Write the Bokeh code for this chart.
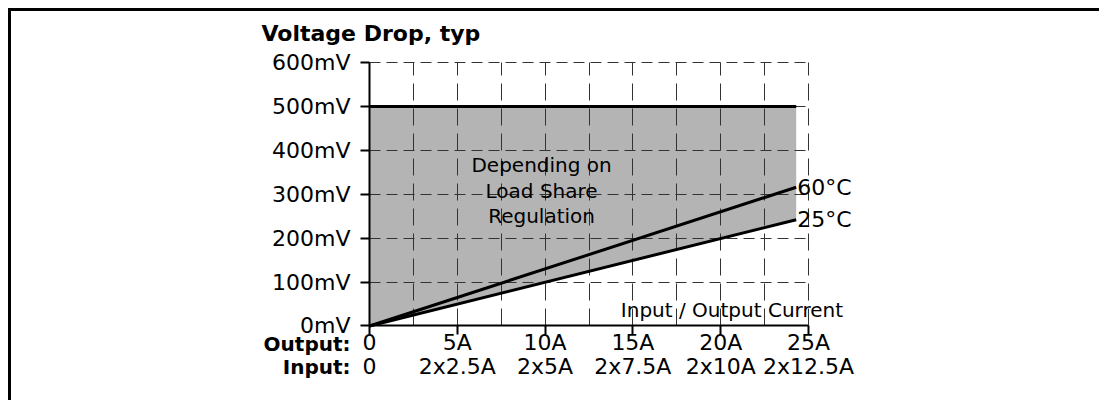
from bokeh.plotting import figure
from bokeh.models import FixedTicker, LinearAxis, Label, Range1d
from bokeh.embed import file_html
from bokeh.resources import INLINE

# ---- data ----
current = [0, 24.3]            # A (output current)
drop_60c = [0, 316]            # mV at 60 °C
drop_25c = [0, 242]            # mV at 25 °C
limit_mv = [500, 500]          # upper bound depending on load share regulation

y_ticks = [0, 100, 200, 300, 400, 500, 600]
y_tick_labels = ["0mV", "100mV", "200mV", "300mV", "400mV", "500mV", "600mV"]
x_ticks = [0, 5, 10, 15, 20, 25]
output_labels = ["0", "5A", "10A", "15A", "20A", "25A"]
input_labels = ["0", "2x2.5A", "2x5A", "2x7.5A", "2x10A", "2x12.5A"]
x_grid = [0, 2.5, 5, 7.5, 10, 12.5, 15, 17.5, 20, 22.5, 25]

FONT = "DejaVu Sans"

# view window (room for annotation text around the 0..25 A / 0..600 mV area)
X_VIEW = (-6.207, 27.961)
Y_VIEW = (-135.5, 697.9)

p = figure(width=1091, height=392,
           x_range=Range1d(*X_VIEW), y_range=Range1d(*Y_VIEW),
           output_backend="svg", toolbar_location=None,
           min_border_left=249, min_border_right=242,
           min_border_top=8, min_border_bottom=18)
p.styles = {"margin-left": "8px", "margin-top": "8px",
            "border-top": "3px solid black", "border-left": "3px solid black"}
p.outline_line_color = None
p.background_fill_color = "white"
p.border_fill_color = "white"

# grid
p.xgrid.ticker = FixedTicker(ticks=x_grid)
p.ygrid.ticker = FixedTicker(ticks=y_ticks)
p.xgrid.cross_bounds = (y_ticks[0], y_ticks[-1])
p.ygrid.cross_bounds = (x_ticks[0], x_ticks[-1])
p.xgrid.bounds = (x_ticks[0], x_ticks[-1])
p.ygrid.bounds = (y_ticks[0], y_ticks[-1])
for g in (p.xgrid[0], p.ygrid[0]):
    g.grid_line_color = "#333333"
    g.grid_line_width = 1
p.xgrid.grid_line_dash = "17 8"
p.ygrid.grid_line_dash = "11 6"

# y axis
ya = p.yaxis[0]
ya.fixed_location = 0
ya.bounds = (y_ticks[0], y_ticks[-1])
ya.ticker = FixedTicker(ticks=y_ticks)
ya.major_label_overrides = dict(zip(y_ticks, y_tick_labels))
ya.axis_line_color = "black"
ya.axis_line_width = 2
ya.major_tick_line_color = "black"
ya.major_tick_line_width = 2
ya.major_tick_in = 0
ya.major_tick_out = 9
ya.minor_tick_line_color = None
ya.major_label_standoff = 10
ya.major_label_text_font = FONT
ya.major_label_text_font_size = "22px"
ya.major_label_text_color = "black"

# x axis (output current row)
xa = p.xaxis[0]
xa.fixed_location = 0
xa.bounds = (x_ticks[0], x_ticks[-1])
xa.ticker = FixedTicker(ticks=x_ticks)
xa.major_label_overrides = dict(zip(x_ticks, output_labels))
xa.axis_line_color = "black"
xa.axis_line_width = 2
xa.major_tick_line_color = "black"
xa.major_tick_line_width = 2
xa.major_tick_in = 0
xa.major_tick_out = 9
xa.minor_tick_line_color = None
xa.major_label_standoff = -5
xa.major_label_text_font = FONT
xa.major_label_text_font_size = "22px"
xa.major_label_text_color = "black"

# second x axis (input current row)
xa2 = LinearAxis(ticker=FixedTicker(ticks=x_ticks), fixed_location=0,
                 major_label_overrides=dict(zip(x_ticks, input_labels)),
                 axis_line_color=None, major_tick_line_color=None,
                 minor_tick_line_color=None, major_tick_in=0, major_tick_out=0,
                 major_label_standoff=28,
                 major_label_text_font=FONT, major_label_text_font_size="22px",
                 major_label_text_color="black")
p.add_layout(xa2, "below")

# shaded region
p.patch([current[0], current[0], current[-1], current[-1]],
        [drop_25c[0], limit_mv[0], limit_mv[-1], drop_25c[-1]],
        fill_color="#b4b4b4", line_color=None, level="image")

p.line(current, limit_mv, line_color="black", line_width=3)
p.line(current, drop_60c, line_color="black", line_width=3)
p.line(current, drop_25c, line_color="black", line_width=3)

def lab(x, y, text, size="20px", align="center", bold=False, xo=0, yo=0):
    p.add_layout(Label(x=x, y=y, text=text, x_offset=xo, y_offset=yo,
                       text_align=align, text_baseline="middle",
                       text_font=FONT, text_font_size=size,
                       text_font_style="bold" if bold else "normal",
                       text_color="black"))

lab(0, 666, "Voltage Drop, typ", size="22px", align="left", bold=True, xo=-108)
lab(9.8, 367, "Depending on")
lab(9.8, 307, "Load Share")
lab(9.8, 250, "Regulation")
lab(20.64, 37, "Input / Output Current")
lab(current[-1], drop_60c[-1], "60°C", size="22px", align="left", xo=1)
lab(current[-1], drop_25c[-1], "25°C", size="22px", align="left", xo=1)
lab(0, 0, "Output:", align="right", bold=True, xo=-19, yo=-18)
lab(0, 0, "Input:", align="right", bold=True, xo=-19, yo=-41)

open("out.html", "w").write(file_html(p, INLINE))
